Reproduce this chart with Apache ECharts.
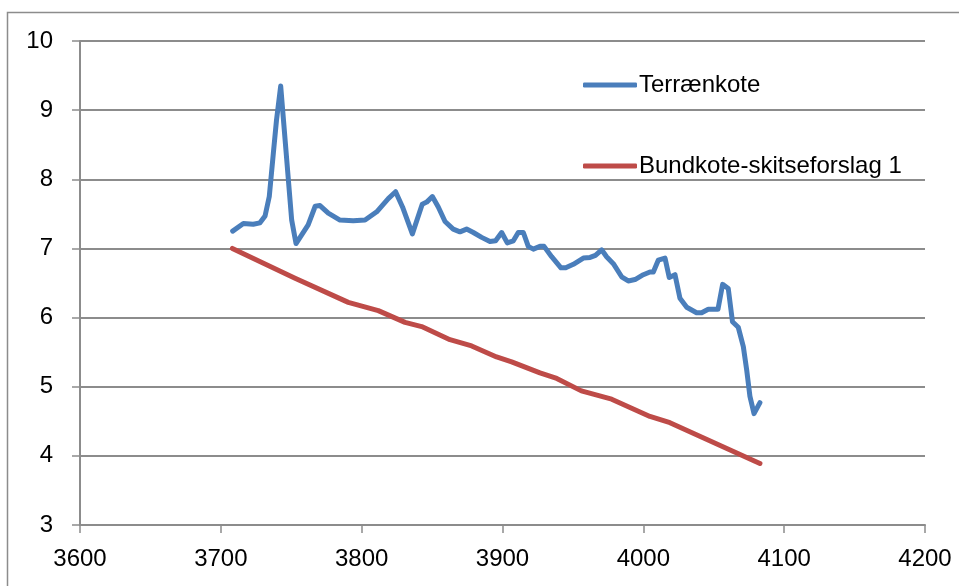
<!DOCTYPE html>
<html>
<head>
<meta charset="utf-8">
<script src="https://cdn.jsdelivr.net/npm/echarts@6/dist/echarts.min.js"></script>
<style>
  html, body { margin: 0; padding: 0; background: #fff; }
  #chart { width: 959px; height: 586px; }
</style>
</head>
<body>
<div id="chart"></div>
<script>
// Station (m) and terrain elevation
const terrainStation = [3708.4, 3716.0, 3723.0, 3727.8, 3731.4, 3734.4, 3737.3, 3739.5, 3742.5, 3750.3, 3753.4,
  3762.0, 3767.0, 3770.4, 3776.3, 3784.6, 3794.0, 3802.4, 3810.7, 3818.9, 3824.1, 3829.0, 3836.0,
  3843.0, 3846.2, 3850.2, 3854.4, 3859.2, 3865.0, 3869.8, 3874.5, 3879.3, 3885.2, 3891.1, 3895.1,
  3899.4, 3903.4, 3907.7, 3911.2, 3914.8, 3918.3, 3921.9, 3926.6, 3929.5, 3934.9, 3941.5, 3944.9,
  3950.3, 3957.4, 3962.2, 3966.0, 3970.4, 3973.9, 3978.7, 3984.6, 3989.3, 3994.1, 4000.0, 4004.7,
  4007.1, 4010.6, 4015.4, 4018.4, 4022.5, 4026.0, 4030.8, 4037.8, 4041.4, 4046.1, 4050.9, 4053.0,
  4056.3, 4060.3, 4063.3, 4067.4, 4071.0, 4073.4, 4075.7, 4078.6, 4082.8];
const terrainLevel = [7.25, 7.36, 7.35, 7.37, 7.47, 7.75, 8.38, 8.85, 9.35, 7.41, 7.07,
  7.34, 7.61, 7.62, 7.51, 7.41, 7.40, 7.41, 7.53, 7.72, 7.82, 7.60, 7.21,
  7.64, 7.67, 7.75, 7.60, 7.39, 7.28, 7.24, 7.28, 7.23, 7.16, 7.10, 7.11,
  7.23, 7.08, 7.11, 7.23, 7.23, 7.03, 6.99, 7.03, 7.03, 6.88, 6.72, 6.72,
  6.77, 6.86, 6.87, 6.90, 6.98, 6.88, 6.78, 6.59, 6.53, 6.55, 6.62, 6.66,
  6.66, 6.83, 6.86, 6.58, 6.62, 6.28, 6.15, 6.07, 6.07, 6.12, 6.12, 6.12,
  6.48, 6.42, 5.94, 5.86, 5.58, 5.24, 4.86, 4.61, 4.77];

// Station (m) and proposed bottom level, sketch proposal 1
const bottomStation = [3708.2, 3752.7, 3790.5, 3811.8, 3830.8, 3842.6, 3862.7, 3878.1, 3895.8,
  3906.5, 3926.6, 3938.5, 3956.0, 3977.5, 4004.7, 4018.9, 4082.8];
const bottomLevel = [7.00, 6.57, 6.22, 6.10, 5.93, 5.87, 5.68, 5.59, 5.43,
  5.36, 5.20, 5.12, 4.94, 4.82, 4.57, 4.48, 3.89];

const seriesNames = ['Terrænkote', 'Bundkote-skitseforslag 1'];

const zip = (xs, ys) => xs.map((x, i) => [x, ys[i]]);

const FONT = '"Liberation Sans", Arial, sans-serif';
const GRID_COLOR = '#8c8c8c';

const chart = echarts.init(document.getElementById('chart'), null, { renderer: 'canvas' });
chart.setOption({
  animation: false,
  backgroundColor: '#fff',
  graphic: [{
    type: 'rect',
    shape: { x: 7.5, y: 12.5, width: 980, height: 600 },
    style: { fill: 'none', stroke: '#8c8c8c', lineWidth: 1.5 },
    silent: true
  }],
  grid: { left: 80, right: 34, top: 41, bottom: 61 },
  legend: {
    orient: 'vertical',
    left: 583,
    top: 73,
    padding: 0,
    itemWidth: 54,
    itemHeight: 5,
    itemGap: 57,
    icon: 'roundRect',
    selectedMode: false,
    textStyle: { fontFamily: FONT, fontSize: 24, color: '#000', padding: [0, 0, 0, -3] },
    data: seriesNames
  },
  xAxis: {
    type: 'value',
    min: 3600, max: 4200, interval: 100,
    axisLine: { show: true, lineStyle: { color: GRID_COLOR, width: 2 } },
    axisTick: { show: true, length: 8, lineStyle: { color: GRID_COLOR, width: 1.5 } },
    axisLabel: { fontFamily: FONT, fontSize: 24, color: '#000', margin: 22, formatter: v => String(v) },
    splitLine: { show: false }
  },
  yAxis: {
    type: 'value',
    min: 3, max: 10, interval: 1,
    axisLine: { show: true, lineStyle: { color: GRID_COLOR, width: 2 } },
    axisTick: { show: true, length: 8, lineStyle: { color: GRID_COLOR, width: 1.5 } },
    axisLabel: { fontFamily: FONT, fontSize: 24, color: '#000', margin: 27, formatter: v => String(v) },
    splitLine: { show: true, lineStyle: { color: GRID_COLOR, width: 2 } }
  },
  series: [
    {
      name: seriesNames[0],
      type: 'line',
      data: zip(terrainStation, terrainLevel),
      showSymbol: false,
      symbol: 'none',
      color: '#4a7ebb',
      lineStyle: { width: 5, color: '#4a7ebb', cap: 'round', join: 'round' }
    },
    {
      name: seriesNames[1],
      type: 'line',
      data: zip(bottomStation, bottomLevel),
      showSymbol: false,
      symbol: 'none',
      color: '#be4b48',
      lineStyle: { width: 5, color: '#be4b48', cap: 'round', join: 'round' }
    }
  ]
});
</script>
</body>
</html>
